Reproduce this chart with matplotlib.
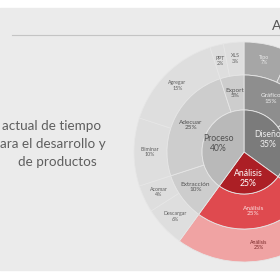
import numpy as np
import matplotlib.pyplot as plt
from matplotlib.patches import Rectangle

plt.rcParams['font.family'] = ['Lato', 'DejaVu Sans']

# sunburst data, clockwise from 12 o'clock
inner_names = ['Diseño', 'Análisis', 'Proceso']
inner_vals = [35, 25, 40]
mid_names = ['Gráfico', 'Layout', 'Análisis', 'Extracción', 'Adecuar', 'Export']
mid_vals = [15, 20, 25, 10, 25, 5]
outer_names = ['Tipo', 'Color', 'Layout', 'Análisis', 'Descargar', 'Acomar',
               'Eliminar', 'Agregar', 'PPT', 'XLS']
outer_vals = [7, 8, 20, 25, 6, 4, 10, 15, 2, 3]

text_lines = ['actual de tiempo', 'ara el desarrollo y', 'de productos']
title = 'A'

# colours per family (gray = proceso, dark gray = diseño, red = análisis)
inner_cols = ['#7b7b7b', '#ac1f25', '#b9b9b9']
mid_cols = ['#8e8e8e', '#8e8e8e', '#df4a4f', '#cdcdcd', '#cdcdcd', '#cdcdcd']
outer_cols = ['#a6a6a6', '#a6a6a6', '#a6a6a6', '#f0a3a3', '#dedede', '#dedede',
              '#dedede', '#dedede', '#dedede', '#dedede']
inner_tc = ['#eeeeee', 'white', '#505050']
mid_tc = ['#eeeeee', '#eeeeee', '#fbe0e0', '#555555', '#505050', '#555555']
outer_tc = ['#e8e8e8', '#e8e8e8', '#e8e8e8', '#7a2a2a'] + ['#606060'] * 6

fig = plt.figure(figsize=(2.8, 2.8), dpi=100)
fig.patch.set_facecolor('white')
ax = fig.add_axes([0, 0, 1, 1])

# slide background (photo of a slide: white bands top and bottom)
ax.add_patch(Rectangle((0, 10), 280, 262, color='#ebebeb', zorder=0))

c = (244, 128)
r_in, r_mid, r_out = 42, 77, 110
edge = dict(edgecolor='#e6e6e6', linewidth=0.6)


def ring(vals, cols, radius, width, names, tcols, r_lab, size):
    wp = dict(edge)
    if width:
        wp['width'] = width
    wedges, _ = ax.pie(vals, colors=cols, radius=radius, center=c, startangle=90,
                       counterclock=False, wedgeprops=wp)
    # label at the middle of each wedge
    for w, n, v, tc in zip(wedges, names, vals, tcols):
        a = np.deg2rad((w.theta1 + w.theta2) / 2)
        ax.text(c[0] + r_lab * np.cos(a), c[1] + r_lab * np.sin(a), f'{n}\n{v}%',
                ha='center', va='center', fontsize=size, color=tc, linespacing=1.1)


ring(outer_vals, outer_cols, r_out, r_out - r_mid, outer_names, outer_tc, 94, 3.8)
ring(mid_vals, mid_cols, r_mid, r_mid - r_in, mid_names, mid_tc, 60, 4.6)
ring(inner_vals, inner_cols, r_in, None, inner_names, inner_tc, 27, 6.2)

ax.set_xlim(0, 280)
ax.set_ylim(0, 280)
ax.set_aspect('equal')
ax.axis('off')

# slide header and text
ax.plot([12, 280], [245, 245], color='#c4c4c4', lw=0.8)
ax.text(272, 250, title, fontsize=10, color='#555555', ha='left', va='baseline')
for i, line in enumerate(text_lines):
    x = [2, 0, 18][i]
    ax.text(x, 150 - i * 18, line, fontsize=9.7, color='#5f5f5f', ha='left', va='baseline')

fig.savefig('out.png', dpi=100)
